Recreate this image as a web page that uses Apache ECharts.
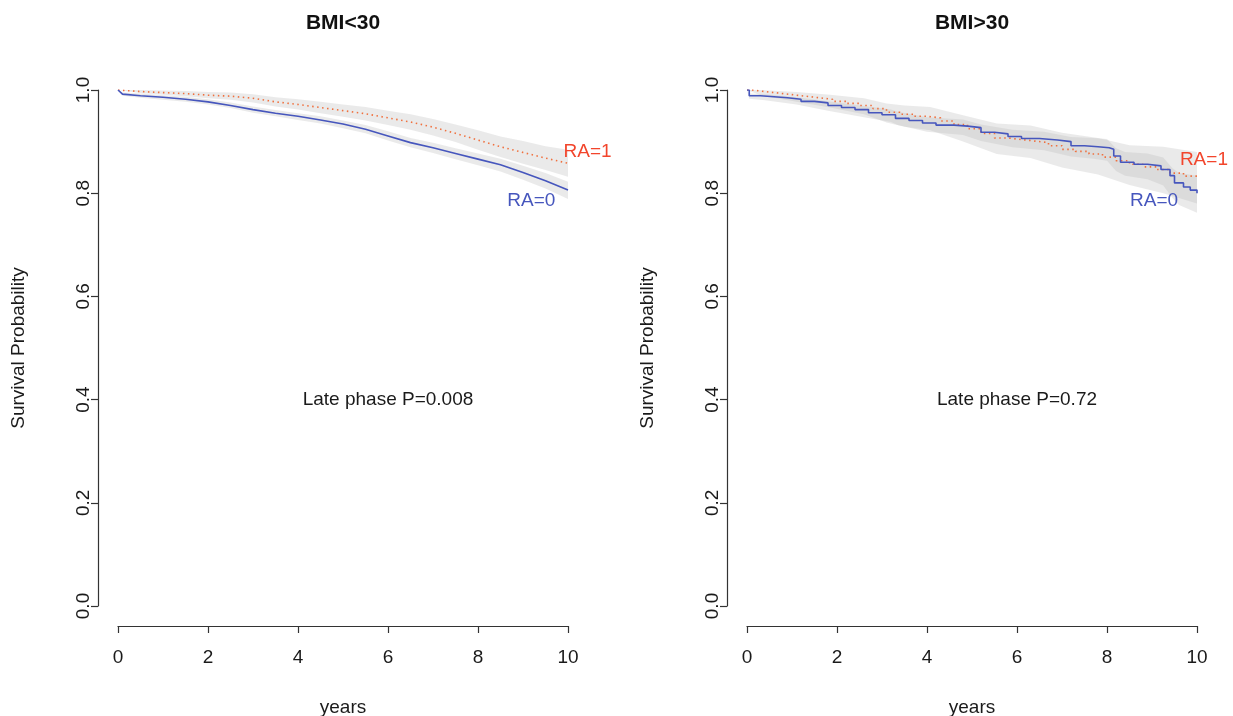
<!DOCTYPE html>
<html>
<head>
<meta charset="utf-8">
<script src="https://cdn.jsdelivr.net/npm/echarts@6/dist/echarts.min.js"></script>
<style>html,body{margin:0;padding:0;background:#fff}#c{width:1233px;height:716px}</style>
</head>
<body>
<div id="c"></div>
<script>
// ---- Data ----
const panelTitles = ['BMI<30', 'BMI>30'];
const pValueTexts = ['Late phase P=0.008', 'Late phase P=0.72'];
const xTicks = [0, 2, 4, 6, 8, 10];
const yTicks = [0.0, 0.2, 0.4, 0.6, 0.8, 1.0];

// Left panel (BMI<30) - curves
const leftRA0Times = [0, 0.1, 0.5, 1, 1.5, 2, 2.5, 3, 3.5, 4, 4.5, 5, 5.5, 6, 6.5, 7, 7.5, 8, 8.5, 9, 9.5, 10];
const leftRA0Surv  = [1.000, 0.992, 0.989, 0.986, 0.982, 0.977, 0.970, 0.962, 0.955, 0.949, 0.942, 0.934, 0.924, 0.911, 0.898, 0.888, 0.877, 0.866, 0.855, 0.840, 0.824, 0.806];
const leftRA1Times = [0, 0.5, 1, 1.5, 2, 2.5, 3, 3.5, 4, 4.5, 5, 5.5, 6, 6.5, 7, 7.5, 8, 8.5, 9, 9.5, 10];
const leftRA1Surv  = [1.000, 0.997, 0.995, 0.993, 0.990, 0.988, 0.984, 0.977, 0.972, 0.966, 0.960, 0.954, 0.946, 0.938, 0.928, 0.916, 0.903, 0.890, 0.879, 0.868, 0.858];

// Left panel - confidence bands
const leftRA0BandTimes = [0, 0.1, 0.5, 1, 1.5, 2, 2.5, 3, 3.5, 4, 4.5, 5, 5.5, 6, 6.5, 7, 7.5, 8, 8.5, 9, 9.5, 10];
const leftRA0Lower = [1.000, 0.989, 0.985, 0.981, 0.977, 0.972, 0.965, 0.956, 0.949, 0.942, 0.935, 0.926, 0.916, 0.902, 0.889, 0.878, 0.866, 0.854, 0.842, 0.826, 0.809, 0.789];
const leftRA0Upper = [1.000, 0.995, 0.993, 0.990, 0.987, 0.982, 0.976, 0.968, 0.961, 0.955, 0.949, 0.941, 0.932, 0.920, 0.907, 0.898, 0.887, 0.877, 0.867, 0.853, 0.839, 0.822];
const leftRA1BandTimes = [0, 0.5, 1, 1.5, 2, 2.5, 3, 3.5, 4, 4.5, 5, 5.5, 6, 6.5, 7, 7.5, 8, 8.5, 9, 9.5, 10];
const leftRA1Lower = [1.000, 0.994, 0.991, 0.988, 0.984, 0.981, 0.976, 0.968, 0.962, 0.955, 0.948, 0.941, 0.932, 0.923, 0.912, 0.899, 0.884, 0.870, 0.857, 0.845, 0.832];
const leftRA1Upper = [1.000, 1.000, 0.999, 0.998, 0.996, 0.995, 0.992, 0.986, 0.982, 0.977, 0.972, 0.967, 0.960, 0.953, 0.944, 0.933, 0.922, 0.910, 0.901, 0.891, 0.884];

// Right panel (BMI>30) - curves (step functions)
const rightRA0Times = [0, 0.05, 0.3, 0.6, 0.9, 1.2, 1.5, 1.8, 2.1, 2.4, 2.7, 3.0, 3.3, 3.6, 3.9, 4.2, 4.6, 4.9, 5.2, 5.5, 5.8, 6.1, 6.5, 6.9, 7.2, 7.5, 7.8, 8.05, 8.15, 8.3, 8.6, 8.9, 9.2, 9.4, 9.5, 9.7, 9.85, 10];
const rightRA0Surv  = [1.000, 0.989, 0.987, 0.985, 0.982, 0.978, 0.975, 0.970, 0.966, 0.962, 0.956, 0.952, 0.945, 0.941, 0.936, 0.932, 0.930, 0.927, 0.918, 0.915, 0.910, 0.906, 0.903, 0.900, 0.892, 0.890, 0.888, 0.885, 0.872, 0.860, 0.856, 0.853, 0.846, 0.834, 0.820, 0.812, 0.806, 0.800];
const rightRA1Times = [0, 0.1, 0.4, 0.7, 1.0, 1.3, 1.6, 1.9, 2.2, 2.5, 2.8, 3.1, 3.4, 3.7, 4.0, 4.3, 4.6, 4.9, 5.2, 5.5, 5.8, 6.1, 6.4, 6.7, 7.0, 7.3, 7.6, 7.9, 8.2, 8.5, 8.8, 9.1, 9.4, 9.7, 10];
const rightRA1Surv  = [1.000, 0.997, 0.994, 0.991, 0.988, 0.985, 0.982, 0.978, 0.974, 0.970, 0.964, 0.957, 0.953, 0.949, 0.946, 0.940, 0.933, 0.925, 0.916, 0.907, 0.904, 0.901, 0.898, 0.892, 0.885, 0.881, 0.876, 0.870, 0.863, 0.856, 0.851, 0.846, 0.839, 0.833, 0.827];

// Right panel - confidence bands
const rightRA0BandTimes = [0, 0.05, 0.4, 1.1, 1.8, 2.6, 3.2, 3.35, 4.0, 4.8, 5.2, 5.9, 6.6, 7.2, 7.7, 8.0, 8.2, 8.4, 8.9, 9.25, 9.45, 9.6, 10];
const rightRA0Lower = [1.000, 0.983, 0.980, 0.972, 0.960, 0.947, 0.938, 0.932, 0.919, 0.913, 0.901, 0.889, 0.883, 0.871, 0.867, 0.863, 0.843, 0.834, 0.827, 0.815, 0.791, 0.777, 0.762];
const rightRA0Upper = [1.000, 0.993, 0.992, 0.986, 0.978, 0.969, 0.962, 0.958, 0.947, 0.943, 0.933, 0.923, 0.919, 0.909, 0.907, 0.905, 0.887, 0.880, 0.877, 0.869, 0.849, 0.839, 0.834];
const rightRA1BandTimes = [0, 0.3, 1.1, 1.85, 2.6, 3.1, 3.5, 4.07, 4.8, 5.55, 6.3, 7.0, 7.8, 8.5, 9.25, 10];
const rightRA1Lower = [1.000, 0.990, 0.977, 0.966, 0.953, 0.937, 0.929, 0.922, 0.900, 0.876, 0.868, 0.850, 0.836, 0.816, 0.800, 0.780];
const rightRA1Upper = [1.000, 1.000, 0.996, 0.991, 0.984, 0.974, 0.970, 0.967, 0.951, 0.935, 0.931, 0.917, 0.907, 0.893, 0.890, 0.880];

// Curve label positions (data coords) [x, y]
const leftLabelRA1 = [9.9, 0.88];
const leftLabelRA0 = [9.72, 0.785];
const rightLabelRA1 = [9.62, 0.864];
const rightLabelRA0 = [9.58, 0.785];
const pValuePos = [6.0, 0.40];

// ---- Styling ----
const FONT = "'Liberation Sans', Arial, Helvetica, sans-serif";
const BLUE = '#4656bd';
const RED_TEXT = '#f2452c';
const ORANGE_LINE = '#f0703e';
const BAND = 'rgba(185,185,185,0.30)';
const AXIS = '#333';
const TXT = '#1a1a1a';

function zip(t, v) { return t.map((x, i) => [x, v[i]]); }

function bandSeries(idx, times, lower, upper) {
  return {
    type: 'custom', xAxisIndex: idx, yAxisIndex: idx, silent: true, z: 1,
    data: [[0, 0]],
    renderItem: function (params, api) {
      const up = [], lo = [];
      for (let i = 0; i < times.length; i++) {
        up.push(api.coord([times[i], upper[i]]));
        lo.push(api.coord([times[i], lower[i]]));
      }
      return { type: 'polygon', shape: { points: up.concat(lo.reverse()) }, style: { fill: BAND } };
    }
  };
}

function curve(idx, times, surv, color, dotted, stepped) {
  return {
    type: 'line', xAxisIndex: idx, yAxisIndex: idx, step: stepped ? 'end' : false, showSymbol: false, z: 3,
    data: zip(times, surv),
    lineStyle: { color: color, width: 1.6, type: dotted ? [1.5, 3.5] : 'solid' },
    silent: true, animation: false
  };
}

function textSeries(idx, pos, text, color, align) {
  return {
    type: 'scatter', xAxisIndex: idx, yAxisIndex: idx, symbolSize: 0, z: 5, silent: true,
    itemStyle: { opacity: 1 },
    data: [pos],
    label: { show: true, position: 'inside', formatter: text, color: color, opacity: 1, fontSize: 19, fontFamily: FONT, align: align, verticalAlign: 'middle' }
  };
}

function xAxis(idx) {
  return {
    type: 'value', gridIndex: idx, min: 0, max: 10, interval: 2, offset: 20,
    name: 'years', nameLocation: 'middle', nameGap: 72,
    nameTextStyle: { fontSize: 19, fontFamily: FONT, color: TXT },
    axisLine: { show: true, onZero: false, lineStyle: { color: AXIS, width: 1.2 } },
    axisTick: { show: true, length: 7, lineStyle: { color: AXIS, width: 1.2 } },
    axisLabel: { fontSize: 19, fontFamily: FONT, color: TXT, margin: 22 },
    splitLine: { show: false }
  };
}

function yAxis(idx) {
  return {
    type: 'value', gridIndex: idx, min: 0, max: 1, interval: 0.2, offset: 20,
    name: 'Survival Probability', nameLocation: 'middle', nameGap: 70, nameRotate: 90,
    nameTextStyle: { fontSize: 19, fontFamily: FONT, color: TXT },
    axisLine: { show: true, onZero: false, lineStyle: { color: AXIS, width: 1.2 } },
    axisTick: { show: true, length: 7, lineStyle: { color: AXIS, width: 1.2 } },
    axisLabel: { fontSize: 19, fontFamily: FONT, color: TXT, rotate: 90, margin: 5,
      formatter: v => v.toFixed(1) },
    splitLine: { show: false }
  };
}

const option = {
  animation: false,
  backgroundColor: '#fff',
  title: [
    { text: panelTitles[0], left: 338, top: 8, textAlign: 'center',
      textStyle: { fontSize: 21, fontWeight: 'bold', fontFamily: FONT, color: '#111' } },
    { text: panelTitles[1], left: 967, top: 8, textAlign: 'center',
      textStyle: { fontSize: 21, fontWeight: 'bold', fontFamily: FONT, color: '#111' } }
  ],
  grid: [
    { left: 118, right: 665, top: 90, bottom: 110, containLabel: false, outerBoundsMode: 'none' },
    { left: 747, right: 36, top: 90, bottom: 110, containLabel: false, outerBoundsMode: 'none' }
  ],
  xAxis: [xAxis(0), xAxis(1)],
  yAxis: [yAxis(0), yAxis(1)],
  series: [
    bandSeries(0, leftRA0BandTimes, leftRA0Lower, leftRA0Upper),
    bandSeries(0, leftRA1BandTimes, leftRA1Lower, leftRA1Upper),
    bandSeries(1, rightRA0BandTimes, rightRA0Lower, rightRA0Upper),
    bandSeries(1, rightRA1BandTimes, rightRA1Lower, rightRA1Upper),
    curve(0, leftRA1Times, leftRA1Surv, ORANGE_LINE, true, false),
    curve(0, leftRA0Times, leftRA0Surv, BLUE, false, false),
    curve(1, rightRA1Times, rightRA1Surv, ORANGE_LINE, true, true),
    curve(1, rightRA0Times, rightRA0Surv, BLUE, false, true),
    textSeries(0, leftLabelRA1, 'RA=1', RED_TEXT, 'left'),
    textSeries(0, leftLabelRA0, 'RA=0', BLUE, 'right'),
    textSeries(1, rightLabelRA1, 'RA=1', RED_TEXT, 'left'),
    textSeries(1, rightLabelRA0, 'RA=0', BLUE, 'right'),
    textSeries(0, pValuePos, pValueTexts[0], TXT, 'center'),
    textSeries(1, pValuePos, pValueTexts[1], TXT, 'center')
  ]
};

const chart = echarts.init(document.getElementById('c'), null, { renderer: 'canvas' });
chart.setOption(option);
</script>
</body>
</html>
